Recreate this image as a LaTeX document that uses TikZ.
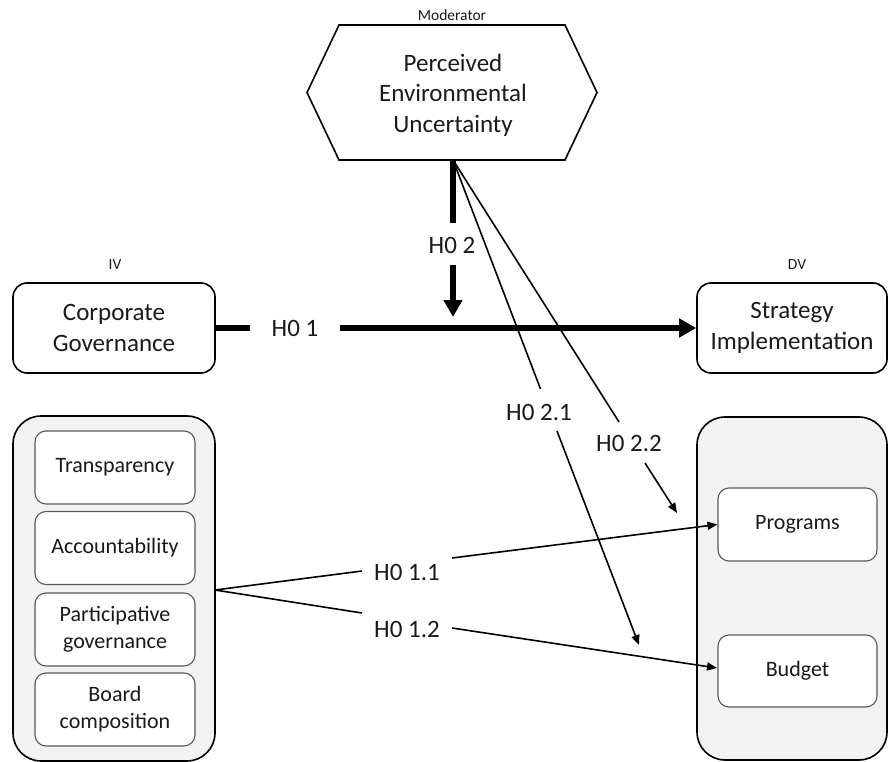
\documentclass[tikz,border=0pt]{standalone}
\usepackage{fontspec}
\setmainfont{Carlito}
\usetikzlibrary{arrows.meta}
\definecolor{panelgray}{HTML}{F2F2F2}
\definecolor{innerb}{HTML}{595959}
\definecolor{txt}{HTML}{1A1A1A}
\newcommand\bigtxt{\fontsize{25}{30.5}\selectfont}
\newcommand\subtxt{\fontsize{22}{27}\selectfont}
\newcommand\tagtxt{\fontsize{15.5}{18}\selectfont}
\begin{document}
\begin{tikzpicture}[x=1pt,y=-1pt,
  mainbox/.style={draw=black, line width=1.6pt, rounded corners=14pt, minimum height=90pt, align=center, font=\bigtxt, text=txt, inner sep=0pt},
  panelbox/.style={draw=black, line width=1.6pt, fill=panelgray, rounded corners=28pt, inner sep=0pt},
  subbox/.style={draw=innerb, line width=1.1pt, fill=white, rounded corners=11pt, minimum width=160pt, minimum height=73pt, align=center, font=\subtxt, text=txt, inner sep=0pt},
  tag/.style={font=\tagtxt, text=txt, inner sep=0pt},
  hlabel/.style={font=\bigtxt, text=txt, inner sep=0pt},
  thickline/.style={line width=6pt},
  thickarrow/.style={line width=6pt, -{Triangle[length=17pt,width=18pt]}},
  thinline/.style={line width=1.6pt},
  thinarrow/.style={line width=1.6pt, -{Triangle[length=10pt,width=8pt]}},
  hexline/.style={draw=black, line width=1.6pt, line join=miter}
]
\useasboundingbox (0,0) rectangle (889,762);

% Moderator hexagon
\draw[hexline] (339,25) -- (565,25) -- (597,92.5) -- (565,160) -- (339,160) -- (307,92.5) -- cycle;
\node[hlabel, align=center] (pev) at (453,95) {Perceived\\Environmental\\Uncertainty};
\node[tag] (modtag) at (452,15) {Moderator};
\coordinate (pevb) at (453,160);

% IV and DV
\node[mainbox, minimum width=202pt] (cg) at (114,328) {Corporate\\Governance};
\node[tag] (ivtag) at (115,265) {IV};
\node[mainbox, minimum width=190pt] (si) at (792,328) {Strategy\\Implementation};
\node[tag] (dvtag) at (797,265) {DV};

% Panels
\node[panelbox, minimum width=202pt, minimum height=345pt] (lp) at (114,588.5) {};
\node[panelbox, minimum width=190pt, minimum height=343pt] (rp) at (792,588.5) {};

\node[subbox] (tr) at (115,467.5) {Transparency};
\node[subbox] (ac) at (115,548) {Accountability};
\node[subbox] (pg) at (115,629.5) {Participative\\governance};
\node[subbox] (bc) at (115,709.5) {Board\\composition};

\node[subbox, minimum width=159pt] (prog) at (797.5,524.5) {Programs};
\node[subbox, minimum width=159pt, minimum height=72pt] (bud) at (797.5,671) {Budget};

% Hypothesis labels
\node[hlabel] (h01) at (295,328) {H0 1};
\node[hlabel] (h02) at (452,245) {H0 2};
\node[hlabel] (h011) at (407,572) {H0 1.1};
\node[hlabel] (h012) at (407,629) {H0 1.2};
\node[hlabel] (h021) at (539,412) {H0 2.1};
\node[hlabel] (h022) at (629,443) {H0 2.2};

% Gap coordinates
\coordinate (a1) at (250,328);
\coordinate (b1) at (340,328);
\coordinate (a2) at (453,223);
\coordinate (b2) at (453,265);
\coordinate (t2) at (453,317);
\coordinate (fork) at (215,590);
\coordinate (a11) at (362,571);
\coordinate (b11) at (452,558);
\coordinate (a12) at (362,613);
\coordinate (b12) at (452,628);
\coordinate (t12) at (717,668);
\coordinate (a21) at (540.5,389);
\coordinate (b21) at (557,431);
\coordinate (t21) at (639,645);
\coordinate (a22) at (619,422);
\coordinate (b22) at (645,463);
\coordinate (t22) at (677,513);

% H0 1
\draw[thickline] (cg.east) -- (a1);
\draw[thickarrow] (b1) -- (si.west);
% H0 2
\draw[thickline] (pevb) -- (a2);
\draw[thickarrow] (b2) -- (t2);
% H0 2.1 and 2.2
\draw[thinline] (pevb) -- (a21);
\draw[thinarrow] (b21) -- (t21);
\draw[thinline] (pevb) -- (a22);
\draw[thinarrow] (b22) -- (t22);
% H0 1.1 and 1.2
\draw[thinline] (fork) -- (a11);
\draw[thinarrow] (b11) -- (prog.west);
\draw[thinline] (fork) -- (a12);
\draw[thinarrow] (b12) -- (t12);
\end{tikzpicture}
\end{document}
